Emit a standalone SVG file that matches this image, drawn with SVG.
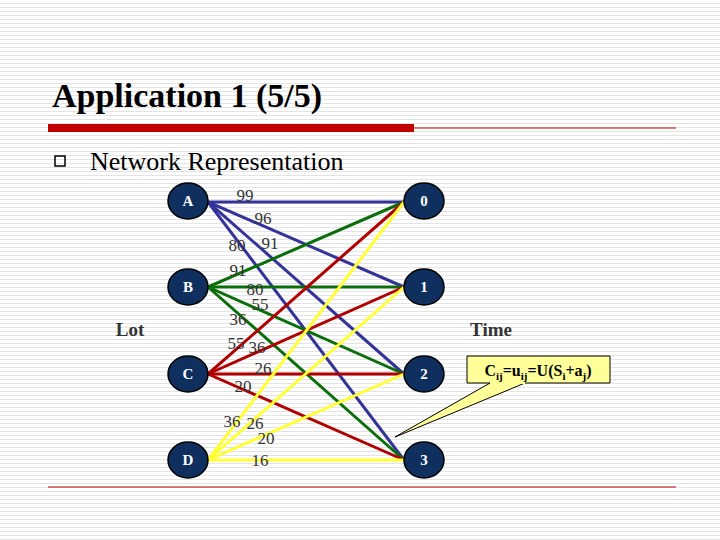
<svg xmlns="http://www.w3.org/2000/svg" width="720" height="540" viewBox="0 0 720 540">
<defs>
<pattern id="st" width="4" height="4" patternUnits="userSpaceOnUse"><rect width="4" height="4" fill="#fff"/><rect y="3" width="4" height="1" fill="#e4e4e4"/></pattern>
<style>
.n{fill:#0f2f5f;stroke:#000;stroke-width:1.5}
.nt{font-family:"Liberation Serif",serif;font-weight:bold;font-size:15px;fill:#fff;text-anchor:middle}
.l{font-family:"Liberation Serif",serif;font-size:17px;fill:#333;text-anchor:middle}
.a{stroke:#333399;stroke-width:3}.b{stroke:#0a6e0a;stroke-width:3}.c{stroke:#b00000;stroke-width:3}.d{stroke:#ffff33;stroke-width:3}
</style>
</defs>
<rect width="720" height="540" fill="url(#st)"/>
<text x="52" y="107" font-family="Liberation Serif,serif" font-weight="bold" font-size="34">Application 1 (5/5)</text>
<rect x="48" y="124" width="366" height="8" fill="#c00000"/>
<line x1="414" y1="128" x2="676" y2="128" stroke="#c00000" stroke-width="1"/>
<line x1="48" y1="487" x2="676" y2="487" stroke="#c00000" stroke-width="1"/>
<rect x="55" y="156" width="10" height="10" fill="none" stroke="#000" stroke-width="1.5"/>
<text x="90" y="170" font-family="Liberation Serif,serif" font-size="26">Network Representation</text>
<g id="connectors">
<line class="a" x1="208" y1="202" x2="404" y2="202"/>
<line class="a" x1="208" y1="202" x2="404" y2="287"/>
<line class="a" x1="208" y1="202" x2="404" y2="374"/>
<line class="a" x1="208" y1="202" x2="404" y2="460"/>
<line class="b" x1="208" y1="287" x2="404" y2="202"/>
<line class="b" x1="208" y1="287" x2="404" y2="287"/>
<line class="b" x1="208" y1="287" x2="404" y2="374"/>
<line class="b" x1="208" y1="287" x2="404" y2="460"/>
<line class="c" x1="208" y1="374" x2="404" y2="202"/>
<line class="c" x1="208" y1="374" x2="404" y2="287"/>
<line class="c" x1="208" y1="374" x2="404" y2="374"/>
<line class="c" x1="208" y1="374" x2="404" y2="460"/>
<line class="d" x1="208" y1="460" x2="404" y2="202"/>
<line class="d" x1="208" y1="460" x2="404" y2="287"/>
<line class="d" x1="208" y1="460" x2="404" y2="374"/>
<line class="d" x1="208" y1="460" x2="404" y2="460"/>
</g>
<g id="labels">
<text class="l" x="245" y="201">99</text>
<text class="l" x="263" y="224">96</text>
<text class="l" x="237" y="251">80</text>
<text class="l" x="270" y="249">91</text>
<text class="l" x="238" y="276">91</text>
<text class="l" x="255" y="295">80</text>
<text class="l" x="260" y="310">55</text>
<text class="l" x="238" y="325">36</text>
<text class="l" x="236" y="349">55</text>
<text class="l" x="257" y="353">36</text>
<text class="l" x="263" y="374">26</text>
<text class="l" x="243" y="392">20</text>
<text class="l" x="232" y="427">36</text>
<text class="l" x="255" y="429">26</text>
<text class="l" x="266" y="444">20</text>
<text class="l" x="260" y="466">16</text>
</g>
<g id="nA"><ellipse class="n" cx="188" cy="201" rx="20" ry="18"/><text class="nt" x="188" y="206">A</text></g>
<g id="nB"><ellipse class="n" cx="188" cy="287" rx="20" ry="18"/><text class="nt" x="188" y="292">B</text></g>
<g id="nC"><ellipse class="n" cx="188" cy="374" rx="20" ry="18"/><text class="nt" x="188" y="379">C</text></g>
<g id="nD"><ellipse class="n" cx="188" cy="460" rx="20" ry="18"/><text class="nt" x="188" y="465">D</text></g>
<g id="n0"><ellipse class="n" cx="424" cy="201" rx="20" ry="18"/><text class="nt" x="424" y="206">0</text></g>
<g id="n1"><ellipse class="n" cx="424" cy="287" rx="20" ry="18"/><text class="nt" x="424" y="292">1</text></g>
<g id="n2"><ellipse class="n" cx="424" cy="374" rx="20" ry="18"/><text class="nt" x="424" y="379">2</text></g>
<g id="n3"><ellipse class="n" cx="424" cy="460" rx="20" ry="18"/><text class="nt" x="424" y="465">3</text></g>
<text x="130" y="336" font-family="Liberation Serif,serif" font-weight="bold" font-size="19" fill="#333" text-anchor="middle">Lot</text>
<text x="491" y="336" font-family="Liberation Serif,serif" font-weight="bold" font-size="19" fill="#333" text-anchor="middle">Time</text>
<g id="callout">
<path d="M467,356 H610 V383 H525 L395,437 L490,383 H467 Z" fill="#ffff99" stroke="#000" stroke-width="1"/>
<line x1="490" y1="383" x2="525" y2="383" stroke="#ffff99" stroke-width="2"/>
<text x="538" y="376" font-family="Liberation Serif,serif" font-weight="bold" font-size="16" text-anchor="middle">C<tspan font-size="11" dy="4">ij</tspan><tspan dy="-4">=u</tspan><tspan font-size="11" dy="4">ij</tspan><tspan dy="-4">=U(S</tspan><tspan font-size="11" dy="4">i</tspan><tspan dy="-4">+a</tspan><tspan font-size="11" dy="4">j</tspan><tspan dy="-4">)</tspan></text>
</g>
</svg>
